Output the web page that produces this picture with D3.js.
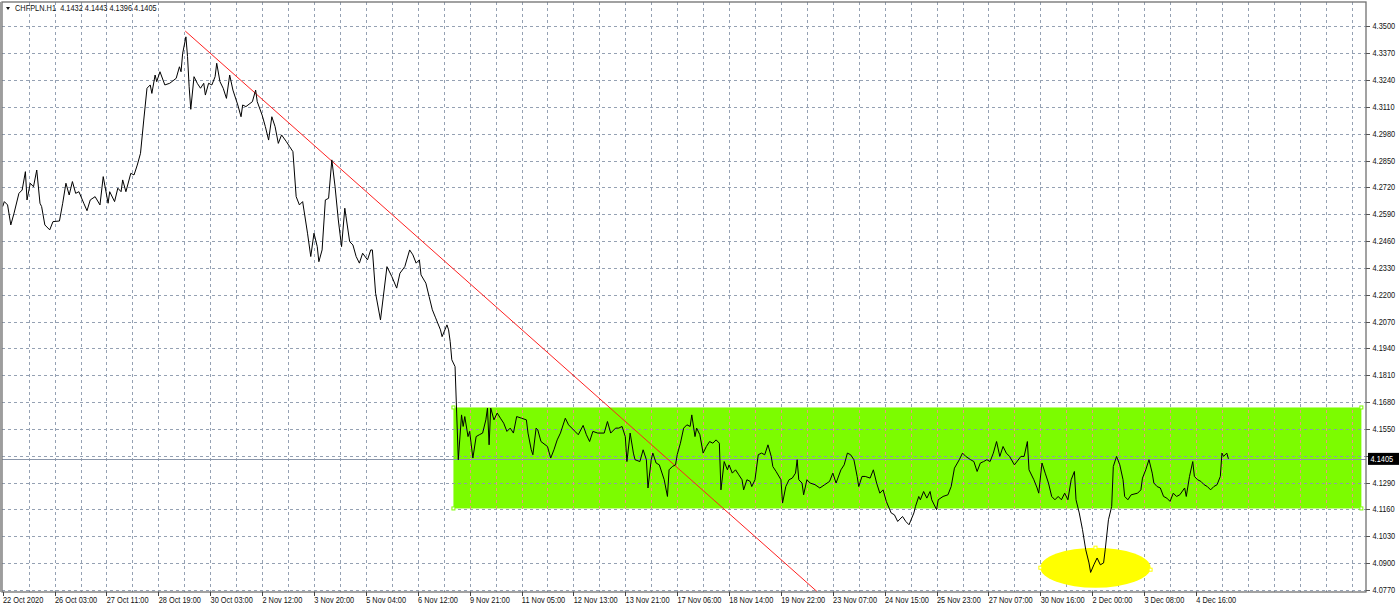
<!DOCTYPE html>
<html><head><meta charset="utf-8">
<script src="https://cdn.jsdelivr.net/npm/d3@7"></script>
<style>html,body{margin:0;padding:0;background:#fff;overflow:hidden}svg{display:block}</style>
</head><body><svg id="c" width="1400" height="609"></svg>
<script>
// ---------- data ----------
const symbolTitle = "CHFPLN.H1";
const ohlcTitle = ["4.1432", "4.1443", "4.1396", "4.1405"];
const timeLabels = ["22 Oct 2020","26 Oct 03:00","27 Oct 11:00","28 Oct 19:00","30 Oct 03:00","2 Nov 12:00","3 Nov 20:00","5 Nov 04:00","6 Nov 12:00","9 Nov 21:00","11 Nov 05:00","12 Nov 13:00","13 Nov 21:00","17 Nov 06:00","18 Nov 14:00","19 Nov 22:00","23 Nov 07:00","24 Nov 15:00","25 Nov 23:00","27 Nov 07:00","30 Nov 16:00","2 Dec 00:00","3 Dec 08:00","4 Dec 16:00"];
const priceTicks = [4.3500,4.3370,4.3240,4.3110,4.2980,4.2850,4.2720,4.2590,4.2460,4.2330,4.2200,4.2070,4.1940,4.1810,4.1680,4.1550,4.1420,4.1290,4.1160,4.1030,4.0900,4.0770];
// [bar index (hours), close]
const closeSeries = [[0,4.2627],[1,4.2651],[3,4.2635],[5,4.2538],[7,4.2595],[10,4.2691],[12,4.2707],[14,4.2796],[15,4.2659],[17,4.2740],[19,4.2723],[21,4.2804],[23,4.2643],[24,4.2627],[26,4.2538],[29,4.2514],[31,4.2554],[35,4.2557],[37,4.2643],[39,4.2740],[41,4.2683],[43,4.2748],[45,4.2691],[47,4.2699],[50,4.2643],[52,4.2607],[54,4.2659],[57,4.2675],[60,4.2635],[62,4.2772],[65,4.2643],[66,4.2699],[69,4.2651],[71,4.2716],[73,4.2699],[74,4.2756],[76,4.2699],[79,4.2788],[81,4.2780],[83,4.2828],[85,4.2885],[87,4.3046],[89,4.3200],[91,4.3216],[92,4.3175],[94,4.3264],[95,4.3232],[97,4.3280],[100,4.3216],[103,4.3224],[107,4.3248],[109,4.3304],[110,4.3280],[111,4.3369],[113,4.3449],[114,4.3353],[115,4.3207],[116,4.3098],[118,4.3256],[120,4.3224],[122,4.3200],[124,4.3224],[125,4.3167],[127,4.3224],[129,4.3216],[131,4.3256],[132,4.3321],[134,4.3232],[136,4.3200],[138,4.3151],[140,4.3264],[142,4.3191],[145,4.3119],[147,4.3062],[148,4.3119],[150,4.3111],[154,4.3135],[156,4.3191],[157,4.3135],[160,4.3070],[162,4.3014],[164,4.2949],[166,4.3062],[168,4.3014],[170,4.2933],[172,4.2974],[175,4.2941],[177,4.2917],[179,4.2893],[181,4.2675],[183,4.2635],[185,4.2651],[188,4.2498],[190,4.2385],[192,4.2498],[194,4.2433],[195,4.2360],[197,4.2417],[199,4.2659],[201,4.2667],[203,4.2853],[205,4.2723],[207,4.2562],[209,4.2433],[211,4.2619],[214,4.2457],[216,4.2441],[218,4.2385],[220,4.2353],[222,4.2401],[225,4.2369],[227,4.2417],[228,4.2417],[230,4.2207],[233,4.2078],[237,4.2336],[240,4.2288],[243,4.2232],[245,4.2304],[248,4.2336],[251,4.2417],[253,4.2393],[255,4.2353],[257,4.2369],[258,4.2296],[261,4.2256],[263,4.2191],[265,4.2127],[267,4.2088],[270,4.2030],[271,4.1997],[274,4.2054],[275,4.2030],[276,4.1973],[277,4.1885],[279,4.1852],[280,4.1627],[281,4.1401],[283,4.1618],[284,4.1562],[285,4.1610],[287,4.1513],[288,4.1538],[290,4.1409],[292,4.1513],[294,4.1522],[296,4.1530],[298,4.1594],[299,4.1651],[300,4.1473],[301,4.1651],[303,4.1594],[305,4.1627],[307,4.1602],[309,4.1578],[311,4.1538],[313,4.1554],[315,4.1530],[317,4.1610],[320,4.1602],[323,4.1594],[324,4.1530],[326,4.1449],[327,4.1425],[329,4.1554],[330,4.1546],[332,4.1489],[336,4.1465],[338,4.1409],[340,4.1449],[342,4.1497],[344,4.1530],[347,4.1602],[349,4.1570],[351,4.1554],[353,4.1538],[355,4.1522],[358,4.1567],[360,4.1522],[362,4.1489],[364,4.1538],[367,4.1530],[371,4.1530],[373,4.1586],[375,4.1530],[378,4.1554],[380,4.1554],[382,4.1562],[384,4.1513],[385,4.1392],[387,4.1530],[389,4.1433],[390,4.1401],[393,4.1392],[395,4.1449],[397,4.1401],[398,4.1264],[400,4.1401],[401,4.1433],[403,4.1385],[405,4.1376],[408,4.1304],[410,4.1223],[411,4.1352],[413,4.1368],[415,4.1376],[416,4.1425],[418,4.1481],[420,4.1554],[422,4.1570],[424,4.1562],[425,4.1618],[427,4.1513],[428,4.1554],[430,4.1522],[432,4.1433],[434,4.1465],[436,4.1489],[438,4.1481],[440,4.1497],[442,4.1481],[443,4.1255],[445,4.1392],[447,4.1352],[448,4.1376],[450,4.1336],[452,4.1352],[454,4.1328],[456,4.1304],[457,4.1255],[459,4.1304],[461,4.1296],[462,4.1271],[464,4.1304],[466,4.1425],[468,4.1433],[470,4.1425],[472,4.1473],[474,4.1417],[475,4.1368],[477,4.1344],[480,4.1304],[481,4.1191],[483,4.1271],[485,4.1304],[487,4.1312],[489,4.1336],[490,4.1401],[491,4.1304],[493,4.1288],[494,4.1231],[496,4.1304],[498,4.1288],[501,4.1280],[504,4.1264],[507,4.1280],[510,4.1296],[512,4.1336],[514,4.1288],[517,4.1352],[519,4.1376],[521,4.1433],[523,4.1425],[525,4.1401],[527,4.1320],[528,4.1271],[530,4.1320],[532,4.1320],[535,4.1312],[537,4.1352],[539,4.1288],[541,4.1239],[543,4.1255],[545,4.1199],[548,4.1143],[550,4.1134],[552,4.1102],[555,4.1126],[557,4.1102],[559,4.1086],[562,4.1143],[563,4.1175],[565,4.1223],[566,4.1207],[568,4.1247],[570,4.1215],[572,4.1247],[573,4.1207],[576,4.1159],[577,4.1207],[580,4.1223],[583,4.1231],[585,4.1271],[587,4.1360],[590,4.1401],[592,4.1433],[594,4.1417],[597,4.1401],[599,4.1392],[601,4.1344],[603,4.1385],[605,4.1392],[607,4.1401],[609,4.1392],[611,4.1433],[613,4.1489],[615,4.1417],[617,4.1465],[619,4.1433],[621,4.1417],[624,4.1376],[628,4.1417],[630,4.1417],[632,4.1489],[633,4.1352],[636,4.1304],[638,4.1264],[639,4.1239],[641,4.1385],[643,4.1336],[645,4.1288],[647,4.1223],[649,4.1207],[651,4.1223],[653,4.1207],[655,4.1239],[657,4.1207],[659,4.1304],[661,4.1344],[662,4.1207],[664,4.1143],[666,4.1062],[668,4.0965],[670,4.0901],[671,4.0855],[673,4.0892],[675,4.0925],[677,4.0892],[679,4.0901],[680,4.0965],[682,4.1110],[684,4.1175],[685,4.1368],[687,4.1417],[689,4.1376],[691,4.1304],[692,4.1223],[694,4.1207],[696,4.1231],[700,4.1239],[702,4.1255],[703,4.1312],[705,4.1352],[707,4.1401],[709,4.1336],[710,4.1288],[712,4.1271],[714,4.1264],[716,4.1223],[718,4.1215],[720,4.1199],[722,4.1239],[724,4.1223],[726,4.1231],[729,4.1264],[730,4.1223],[732,4.1320],[734,4.1392],[735,4.1320],[737,4.1304],[739,4.1296],[741,4.1280],[743,4.1271],[745,4.1255],[747,4.1271],[749,4.1280],[751,4.1320],[752,4.1433],[753,4.1417],[755,4.1433],[756,4.1405]];
const lastPrice = 4.1405;
const rangeBars = [278, 838];
const rangePrices = [4.1654, 4.1165];
const trendBars = [112.6, 502.3];
const trendPrices = [4.3477, 4.0762];
const ellipseBars = [640, 708];
const ellipsePrices = [4.0975, 4.0781];

// ---------- layout ----------
const L = 2, R = 1366, T = 2, B = 592;
const barsPerLabel = 32, barsPerGrid = 16;
const x = d3.scaleLinear().domain([0, 23 * barsPerLabel]).range([2.7, 1196]);
const y = d3.scaleLinear().domain([4.0770, 4.3500]).range([590, 26.3]);
const svg = d3.select("#c");
const FONT = "'Liberation Sans', Arial, sans-serif";
const gridColor = "#95a1b3";

svg.append("rect").attr("width", 1400).attr("height", 609).attr("fill", "#fff");
const defs = svg.append("defs");
defs.append("clipPath").attr("id", "plot").append("rect")
  .attr("x", L).attr("y", T).attr("width", R - L).attr("height", B - T);
defs.append("clipPath").attr("id", "box").append("rect")
  .attr("x", x(rangeBars[0])).attr("y", y(rangePrices[0]))
  .attr("width", x(rangeBars[1]) - x(rangeBars[0]))
  .attr("height", y(rangePrices[1]) - y(rangePrices[0]));

const plot = svg.append("g").attr("clip-path", "url(#plot)");

// grid
const gridIdx = d3.range(0, Math.ceil(x.invert(R)), barsPerGrid).filter(d => d > 0);
function drawGrid(g, vColor, hColor) {
  g.selectAll("line.h").data(priceTicks).join("line").attr("class", "h")
    .attr("x1", L).attr("x2", R).attr("y1", d => Math.round(y(d)) + 0.5).attr("y2", d => Math.round(y(d)) + 0.5)
    .attr("stroke", hColor).attr("stroke-width", 1).attr("stroke-dasharray", "3,3");
  g.selectAll("line.v").data(gridIdx).join("line").attr("class", "v")
    .attr("y1", T).attr("y2", B).attr("x1", d => Math.round(x(d)) + 0.5).attr("x2", d => Math.round(x(d)) + 0.5)
    .attr("stroke", vColor).attr("stroke-width", 1).attr("stroke-dasharray", "3,3");
}
drawGrid(plot.append("g"), gridColor, gridColor);

// green range box
plot.append("rect")
  .attr("x", x(rangeBars[0])).attr("y", y(rangePrices[0]))
  .attr("width", x(rangeBars[1]) - x(rangeBars[0]))
  .attr("height", y(rangePrices[1]) - y(rangePrices[0]))
  .attr("fill", "#7cfc00");
drawGrid(plot.append("g").attr("clip-path", "url(#box)"), "#e99a7c", "#8e9aa8");

// yellow ellipse
const ecx = x((ellipseBars[0] + ellipseBars[1]) / 2), ecy = y((ellipsePrices[0] + ellipsePrices[1]) / 2);
const erx = (x(ellipseBars[1]) - x(ellipseBars[0])) / 2, ery = (y(ellipsePrices[1]) - y(ellipsePrices[0])) / 2;
plot.append("ellipse").attr("cx", ecx).attr("cy", ecy).attr("rx", erx).attr("ry", ery).attr("fill", "#ffff00");

// price line
plot.append("line").attr("x1", L).attr("x2", R)
  .attr("y1", Math.round(y(lastPrice)) + 0.5).attr("y2", Math.round(y(lastPrice)) + 0.5)
  .attr("stroke", "#8a96aa").attr("stroke-width", 1);

// trend line
plot.append("line")
  .attr("x1", x(trendBars[0])).attr("y1", y(trendPrices[0]))
  .attr("x2", x(trendBars[1])).attr("y2", y(trendPrices[1]))
  .attr("stroke", "#ff2020").attr("stroke-width", 1);

// close line
plot.append("path").datum(closeSeries)
  .attr("d", d3.line().x(d => x(d[0])).y(d => y(d[1])))
  .attr("fill", "none").attr("stroke", "#000").attr("stroke-width", 1);

// anchor markers
const anchors = [
  [x(rangeBars[0]), y(rangePrices[0]), "#7cfc00"], [x(rangeBars[0]), y(rangePrices[1]), "#7cfc00"],
  [x(rangeBars[1]), y(rangePrices[0]), "#7cfc00"], [x(rangeBars[1]), y(rangePrices[1]), "#7cfc00"],
  [ecx - erx, ecy, "#ffff00"], [ecx, ecy - ery, "#ffff00"], [ecx + erx, ecy + 2, "#ffff00"]
];
plot.selectAll("rect.anc").data(anchors).join("rect").attr("class", "anc")
  .attr("x", d => d[0] - 1.5).attr("y", d => d[1] - 1.5).attr("width", 3).attr("height", 3)
  .attr("fill", "#fff").attr("stroke", d => d[2]).attr("stroke-width", 1);

// frame
svg.append("rect").attr("x", L).attr("y", T).attr("width", R - L).attr("height", B - T)
  .attr("fill", "none").attr("stroke", "#707070").attr("stroke-width", 1.3);
svg.append("line").attr("x1", 0.8).attr("x2", 0.8).attr("y1", T).attr("y2", B).attr("stroke", "#9a9a9a").attr("stroke-width", 1.5);

// right axis
const yAx = svg.append("g");
const visibleTicks = priceTicks.filter(v => Math.abs(v - lastPrice) > 0.004);
yAx.selectAll("line").data(priceTicks).join("line")
  .attr("x1", R).attr("x2", R + 4).attr("y1", d => Math.round(y(d)) + 0.5).attr("y2", d => Math.round(y(d)) + 0.5)
  .attr("stroke", "#555");
yAx.selectAll("text").data(visibleTicks).join("text")
  .attr("transform", d => `translate(${R + 6.5},${y(d) + 3}) scale(0.88,1)`)
  .attr("font-family", FONT).attr("font-size", 8.4).attr("fill", "#111")
  .text(d => d.toFixed(4));
// last price box
svg.append("rect").attr("x", R + 2).attr("y", y(lastPrice) - 6).attr("width", 31).attr("height", 12).attr("fill", "#000");
svg.append("text").attr("transform", `translate(${R + 4.5},${y(lastPrice) + 3.2}) scale(0.88,1)`)
  .attr("font-family", FONT).attr("font-size", 8.4).attr("fill", "#fff").text(lastPrice.toFixed(4));

// bottom axis
const xAx = svg.append("g");
const labelIdx = timeLabels.map((t, i) => i * barsPerLabel);
xAx.selectAll("line").data(labelIdx).join("line")
  .attr("x1", d => Math.round(x(d)) + 0.5).attr("x2", d => Math.round(x(d)) + 0.5).attr("y1", B).attr("y2", B + 4)
  .attr("stroke", "#444");
xAx.selectAll("text").data(timeLabels).join("text")
  .attr("transform", (d, i) => `translate(${x(labelIdx[i]) + 0.3},${B + 11}) scale(0.88,1)`)
  .attr("font-family", FONT).attr("font-size", 8.4).attr("fill", "#111").text(d => d);

// title
svg.append("path").attr("d", "M6,7 L10,7 L8,10 Z").attr("fill", "#111");
svg.append("text").attr("transform", "translate(15,11) scale(0.88,1)")
  .attr("font-family", FONT).attr("font-size", 8.4).attr("fill", "#111")
  .attr("xml:space", "preserve")
  .text(symbolTitle + "  " + ohlcTitle.join(" "));
</script></body></html>
